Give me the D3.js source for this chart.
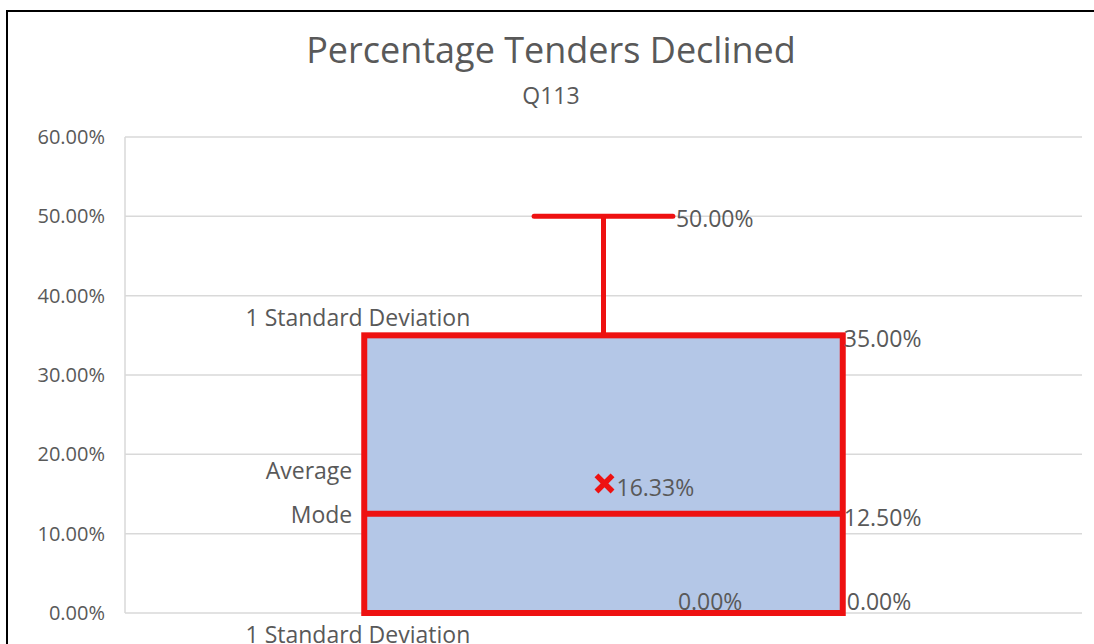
<!DOCTYPE html>
<html>
<head>
<meta charset="utf-8">
<script src="https://cdn.jsdelivr.net/npm/d3@7"></script>
<style>
  body { margin: 0; background: #fff; }
  text { font-family: "Open Sans", sans-serif; fill: #595959; }
</style>
</head>
<body>
<script>
//chart values
var categories = ["Q113"];
var boxLow = [0.00],      //lower std dev / min
    boxMode = [12.50],
    boxAverage = [16.33],
    boxHigh = [35.00],    //upper std dev
    whiskerMax = [50.00],
    whiskerMin = [0.00];
var yTicks = [0, 10, 20, 30, 40, 50, 60];

window.onload = drawChart();

function drawChart(){

    var width = 1094,
        height = 644;

    var plot = {left: 125, right: 1082, top: 137, bottom: 613};

    var svg = d3.select("body")
        .append("svg")
        .attr("width", width)
        .attr("height", height);

    //outer frame
    svg.append("rect")
        .attr("x", 7)
        .attr("y", 11)
        .attr("width", width + 20)
        .attr("height", height + 20)
        .attr("fill", "#fff")
        .attr("stroke", "#000")
        .attr("stroke-width", 2);

    var y = d3.scaleLinear()
        .domain([0, 60])
        .range([plot.bottom, plot.top]);

    var x = d3.scaleBand()
        .domain(categories)
        .range([plot.left, plot.right])
        .paddingInner(0)
        .paddingOuter(0.5);

    //gridlines
    svg.selectAll(".grid")
        .data(yTicks)
        .enter()
        .append("line")
        .attr("class", "grid")
        .attr("x1", plot.left)
        .attr("x2", plot.right)
        .attr("y1", function(d){ return y(d); })
        .attr("y2", function(d){ return y(d); })
        .attr("stroke", "#d9d9d9")
        .attr("stroke-width", 1.5);

    svg.append("line")
        .attr("x1", plot.left).attr("x2", plot.left)
        .attr("y1", plot.top).attr("y2", plot.bottom)
        .attr("stroke", "#d9d9d9")
        .attr("stroke-width", 1.5);

    //y axis labels
    var yAxis = d3.axisLeft(y)
        .tickValues(yTicks)
        .tickSize(0)
        .tickPadding(20)
        .tickFormat(function(d){ return d3.format(".2f")(d) + "%"; });

    var axisG = svg.append("g")
        .attr("transform", "translate(" + plot.left + ",0)")
        .call(yAxis);
    axisG.select(".domain").remove();
    axisG.selectAll("text")
        .attr("font-size", 20)
        .attr("font-family", "'Open Sans', sans-serif")
        .attr("fill", "#595959");

    //title
    svg.append("text")
        .attr("x", 551)
        .attr("y", 63)
        .attr("text-anchor", "middle")
        .attr("font-size", 36)
        .text("Percentage Tenders Declined");

    svg.append("text")
        .attr("x", 551)
        .attr("y", 104)
        .attr("text-anchor", "middle")
        .attr("font-size", 23)
        .text("Q113");

    var red = "#ee1111";

    categories.forEach(function(c, i){
        var x0 = x(c),
            bw = x.bandwidth(),
            cx = x0 + bw / 2,
            capW = bw * 0.29;

        //whisker
        svg.append("line")
            .attr("x1", cx).attr("x2", cx)
            .attr("y1", y(whiskerMax[i])).attr("y2", y(boxHigh[i]))
            .attr("stroke", red).attr("stroke-width", 5);
        svg.append("line")
            .attr("x1", cx - capW / 2).attr("x2", cx + capW / 2)
            .attr("y1", y(whiskerMax[i])).attr("y2", y(whiskerMax[i]))
            .attr("stroke", red).attr("stroke-width", 5)
            .attr("stroke-linecap", "round");

        //box
        svg.append("rect")
            .attr("x", x0)
            .attr("y", y(boxHigh[i]))
            .attr("width", bw)
            .attr("height", y(boxLow[i]) - y(boxHigh[i]))
            .attr("fill", "#b4c7e7")
            .attr("stroke", red)
            .attr("stroke-width", 6);

        //mode line
        svg.append("line")
            .attr("x1", x0).attr("x2", x0 + bw)
            .attr("y1", y(boxMode[i])).attr("y2", y(boxMode[i]))
            .attr("stroke", red).attr("stroke-width", 6);

        //average marker
        var my = y(boxAverage[i]);
        svg.append("path")
            .attr("d", d3.symbol().type(d3.symbolX).size(170)())
            .attr("transform", "translate(" + (cx + 1) + "," + my + ")")
            .attr("stroke", red)
            .attr("stroke-width", 5.5)
            .attr("fill", "none");

        var fmt = function(v){ return d3.format(".2f")(v) + "%"; };

        //value labels
        var labels = [
            {t: fmt(whiskerMax[i]), x: cx + capW / 2 + 3, y: y(whiskerMax[i]) + 11},
            {t: fmt(boxHigh[i]), x: x0 + bw + 1, y: y(boxHigh[i]) + 12},
            {t: fmt(boxAverage[i]), x: cx + 13, y: my + 13},
            {t: fmt(boxMode[i]), x: x0 + bw + 1, y: y(boxMode[i]) + 12},
            {t: fmt(whiskerMin[i]), x: cx + capW / 2 + 5, y: y(whiskerMin[i]) - 3},
            {t: fmt(boxLow[i]), x: x0 + bw + 4, y: y(boxLow[i]) - 3}
        ];
        svg.selectAll(".vlab" + i)
            .data(labels)
            .enter()
            .append("text")
            .attr("x", function(d){ return d.x; })
            .attr("y", function(d){ return d.y; })
            .attr("font-size", 23)
            .text(function(d){ return d.t; });

        //side labels
        var side = [
            {t: "1 Standard Deviation", x: x0 + 106, y: y(boxHigh[i]) - 9},
            {t: "Average", x: x0 - 12, y: y(boxAverage[i]) - 4},
            {t: "Mode", x: x0 - 12, y: y(boxMode[i]) + 9},
            {t: "1 Standard Deviation", x: x0 + 106, y: y(boxLow[i]) + 30}
        ];
        svg.selectAll(".slab" + i)
            .data(side)
            .enter()
            .append("text")
            .attr("x", function(d){ return d.x; })
            .attr("y", function(d){ return d.y; })
            .attr("text-anchor", "end")
            .attr("font-size", 23)
            .text(function(d){ return d.t; });
    });
}
</script>
</body>
</html>
